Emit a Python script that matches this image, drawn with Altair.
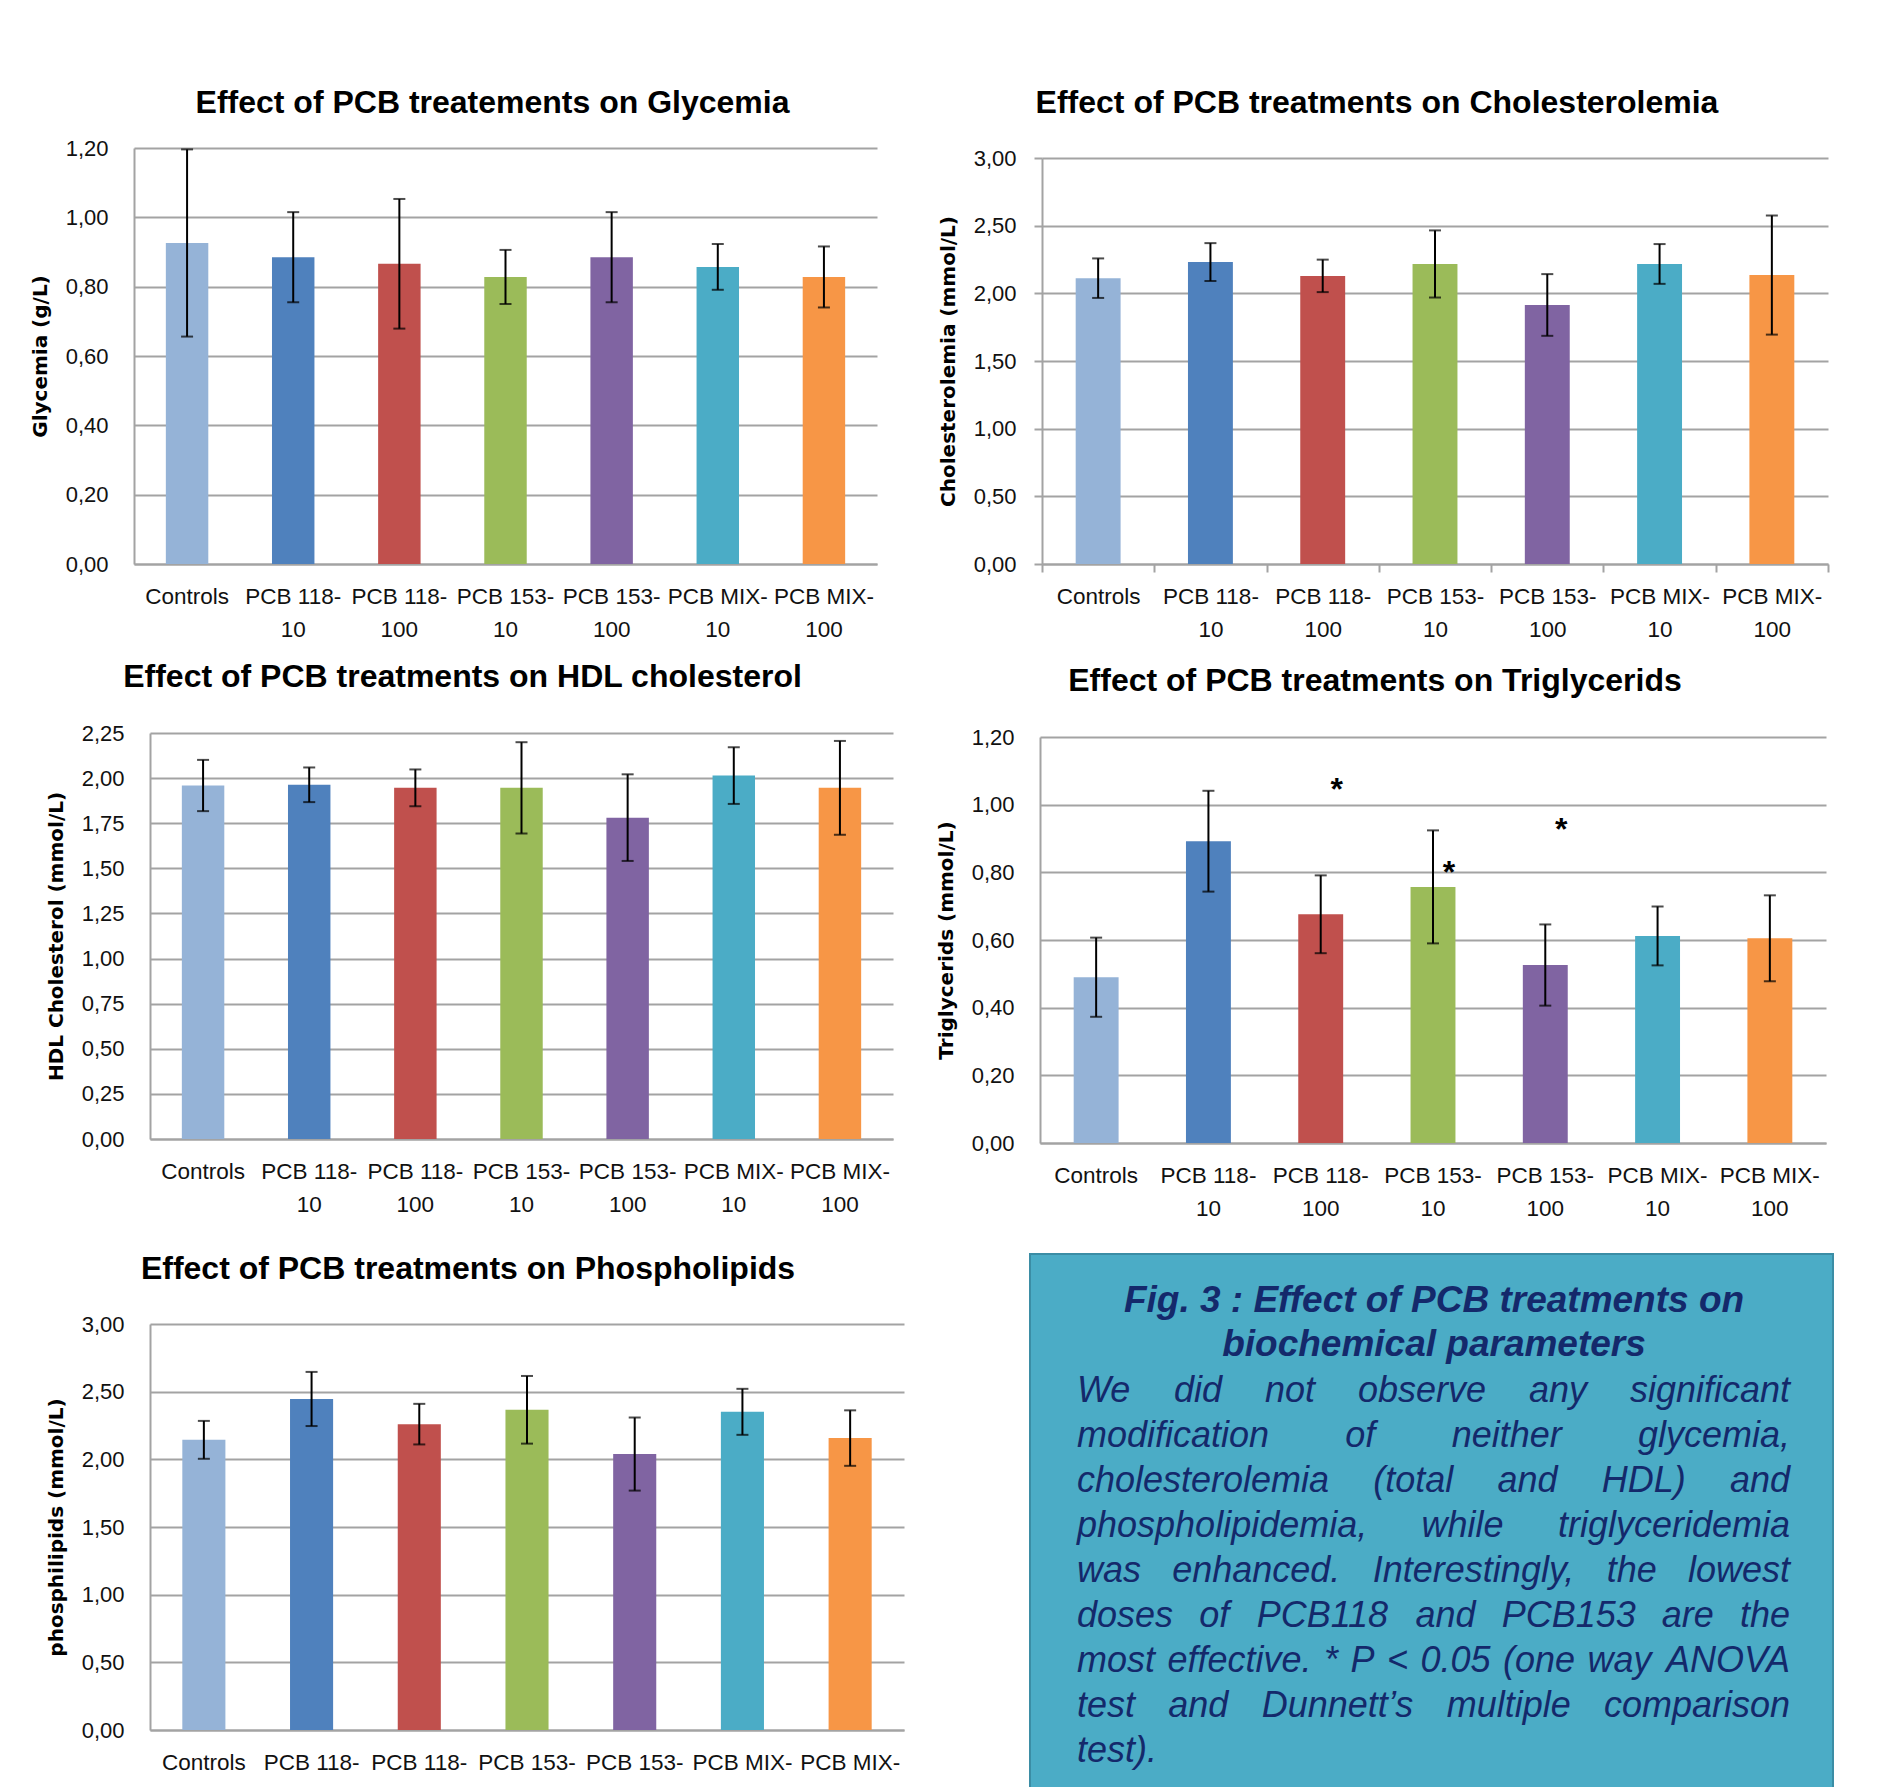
import altair as alt
import pandas as pd

# ---------------- data ----------------
categories = ["Controls", "PCB 118-10", "PCB 118-100", "PCB 153-10",
              "PCB 153-100", "PCB MIX-10", "PCB MIX-100"]
bar_colors = ["#95B3D7", "#4F81BD", "#C0504D", "#9BBB59",
              "#8064A2", "#4BACC6", "#F79646"]

glycemia_mean = [0.926, 0.885, 0.866, 0.828, 0.885, 0.857, 0.828]
glycemia_err = [0.270, 0.130, 0.187, 0.078, 0.130, 0.066, 0.088]
glycemia_ticks = [0.0, 0.2, 0.4, 0.6, 0.8, 1.0, 1.2]

cholesterol_mean = [2.112, 2.231, 2.129, 2.217, 1.914, 2.217, 2.135]
cholesterol_err = [0.146, 0.140, 0.120, 0.248, 0.228, 0.147, 0.440]
cholesterol_ticks = [0.0, 0.5, 1.0, 1.5, 2.0, 2.5, 3.0]

hdl_mean = [1.959, 1.963, 1.946, 1.946, 1.781, 2.014, 1.946]
hdl_err = [0.142, 0.096, 0.102, 0.253, 0.240, 0.157, 0.260]
hdl_ticks = [0.0, 0.25, 0.5, 0.75, 1.0, 1.25, 1.5, 1.75, 2.0, 2.25]

trig_mean = [0.490, 0.892, 0.676, 0.757, 0.526, 0.612, 0.605]
trig_err = [0.117, 0.149, 0.115, 0.167, 0.120, 0.087, 0.127]
trig_ticks = [0.0, 0.2, 0.4, 0.6, 0.8, 1.0, 1.2]
star_categories = ["PCB 118-100", "PCB 153-10", "PCB 153-100"]
star_values = [1.072, 0.829, 0.956]

phospho_mean = [2.144, 2.446, 2.260, 2.366, 2.039, 2.351, 2.157]
phospho_err = [0.140, 0.200, 0.150, 0.250, 0.270, 0.170, 0.205]
phospho_ticks = [0.0, 0.5, 1.0, 1.5, 2.0, 2.5, 3.0]

box_title_lines = ["Fig. 3 : Effect of PCB treatments on", "biochemical parameters"]
box_body_lines = [
    "We did not observe any significant",
    "modification of neither glycemia,",
    "cholesterolemia (total and HDL) and",
    "phospholipidemia, while triglyceridemia",
    "was enhanced. Interestingly, the lowest",
    "doses of PCB118 and PCB153 are the",
    "most effective. * P < 0.05 (one way ANOVA",
    "test and Dunnett\u2019s multiple comparison",
    "test).",
]

# ---------------- styling ----------------
GRID = "#A3A3A3"
LABEL_FONT = "Liberation Sans"
TITLE_FONT = "Liberation Sans"
YTITLE_FONT = "DejaVu Sans"
NAVY = "#14296B"
BOX_FILL = "#4BACC6"
BOX_STROKE = "#3B8DA5"

SPLIT = "split(replace(datum.label, '-', '-|'), '|')"
COMMA = "replace(format(datum.value, '.2f'), '.', ',')"


def panel(title, ytitle, mean, err, ticks_vals, width, height, x_lead=0, y_lead=0,
          title_dx=0, title_offset=28, axis_ticks=False, stars=None):
    df = pd.DataFrame({"cat": categories, "mean": mean, "err": err})
    base = alt.Chart(df).transform_calculate(
        lo="datum.mean - datum.err", hi="datum.mean + datum.err")

    xs_kw = dict(domain=categories, paddingInner=0, paddingOuter=0)
    if x_lead:
        xs_kw["range"] = [-x_lead, width]
    xs = alt.Scale(**xs_kw)
    ys_kw = dict(domain=[0, ticks_vals[-1]], nice=False, zero=True)
    if y_lead:
        ys_kw["range"] = [height, y_lead]
    ys = alt.Scale(**ys_kw)

    xax_kw = dict(title=None, labelAngle=0, labelFont=LABEL_FONT, labelFontSize=22.5,
                  labelColor="#111111", labelLineHeight=33,
                  labelPadding=13 if axis_ticks else 21, labelExpr=SPLIT,
                  labelOverlap=False, labelLimit=300, ticks=axis_ticks, tickSize=8,
                  tickColor=GRID, tickWidth=2, domainColor=GRID, domainWidth=2,
                  grid=False)
    if axis_ticks:
        xax_kw["tickBand"] = "extent"
    x_enc = alt.X("cat:N", sort=categories, scale=xs, axis=alt.Axis(**xax_kw))

    yax_kw = dict(title=ytitle, values=ticks_vals, labelExpr=COMMA, labelFont=LABEL_FONT,
                  labelFontSize=22, labelColor="#111111",
                  labelPadding=18 if axis_ticks else 26, ticks=axis_ticks, tickSize=8,
                  tickColor=GRID, tickWidth=2, domainColor=GRID, domainWidth=2,
                  grid=True, gridColor=GRID, gridWidth=2,
                  titleFont=YTITLE_FONT, titleFontSize=20, titleFontWeight="bold",
                  titleColor="#000000", titleX=-94, titleBaseline="middle")
    if x_lead:
        yax_kw["offset"] = x_lead
    y_enc = alt.Y("mean:Q", scale=ys, axis=alt.Axis(**yax_kw))

    bars = base.mark_bar(width=alt.RelativeBandSize(0.4)).encode(
        x=x_enc, y=y_enc,
        color=alt.Color("cat:N", scale=alt.Scale(domain=categories, range=bar_colors),
                        legend=None))
    rules = base.mark_rule(color="black", strokeWidth=2).encode(
        x=x_enc, y=alt.Y("lo:Q"), y2="hi:Q")
    cap_hi = base.mark_tick(color="black", thickness=2, size=12).encode(
        x=x_enc, y=alt.Y("hi:Q"))
    cap_lo = base.mark_tick(color="black", thickness=2, size=12).encode(
        x=x_enc, y=alt.Y("lo:Q"))
    layers = [bars, rules, cap_hi, cap_lo]
    if stars is not None:
        sdf = pd.DataFrame({"cat": stars[0], "v": stars[1]})
        layers.append(alt.Chart(sdf).mark_text(
            text="*", font=LABEL_FONT, fontSize=32, fontWeight="bold", color="black",
            dx=16, dy=10, baseline="middle").encode(x=x_enc, y=alt.Y("v:Q")))
    return alt.layer(*layers).properties(
        width=width, height=height,
        title=alt.TitleParams(text=title, font=TITLE_FONT, fontSize=32, fontWeight="bold",
                              color="#000000", anchor="middle", frame="group",
                              dx=title_dx, offset=title_offset))


glyc = panel("Effect of PCB treatements on Glycemia", "Glycemia (g/L)",
             glycemia_mean, glycemia_err, glycemia_ticks, 727, 416, x_lead=16,
             title_dx=-21, title_offset=17)
chol = panel("Effect of PCB treatments on Cholesterolemia", "Cholesterolemia (mmol/L)",
             cholesterol_mean, cholesterol_err, cholesterol_ticks, 786, 416, y_lead=10,
             title_dx=-58, title_offset=27, axis_ticks=True)
hdl = panel("Effect of PCB treatments on HDL cholesterol", "HDL Cholesterol (mmol/L)",
            hdl_mean, hdl_err, hdl_ticks, 743, 406, title_dx=-59, title_offset=28)
trig = panel("Effect of PCB treatments on Triglycerids", "Triglycerids (mmol/L)",
             trig_mean, trig_err, trig_ticks, 786, 410, y_lead=4,
             title_dx=-58, title_offset=28, stars=(star_categories, star_values))
phospho = panel("Effect of PCB treatments on Phospholipids", "phosphilipids (mmol/L)",
                phospho_mean, phospho_err, phospho_ticks, 754, 406,
                title_dx=-59, title_offset=27)

# ---------------- text box ----------------
ARIAL = {" ": 278, "!": 278, "(": 333, ")": 333, "*": 389, ",": 278, "-": 333, ".": 278,
         "/": 278, ":": 278, "<": 584, "\u2019": 222, "'": 191}
for ch in "0123456789":
    ARIAL[ch] = 556
ARIAL.update(dict(zip("ABCDEFGHIJKLMNOPQRSTUVWXYZ",
                      [667, 667, 722, 722, 667, 611, 778, 722, 278, 500, 667, 556, 833,
                       722, 778, 667, 778, 722, 667, 611, 722, 667, 944, 667, 667, 611])))
ARIAL.update(dict(zip("abcdefghijklmnopqrstuvwxyz",
                      [556, 556, 500, 556, 556, 278, 556, 556, 222, 222, 500, 222, 833,
                       556, 556, 556, 556, 333, 500, 278, 556, 500, 722, 500, 500, 500])))


def text_width(s, size):
    return sum(ARIAL.get(c, 556) for c in s) * size / 1000.0


BOX_W = 803
BOX_H = 470
BOX_TOP = -70
BODY_SIZE = 36
TXT_L, TXT_R = 47, 760
TITLE_Y0, TITLE_DY = -23, 44
BODY_Y0, BODY_DY = 67, 45

rows = []
for i, line in enumerate(box_body_lines):
    yv = BODY_Y0 + i * BODY_DY
    words = line.split(" ")
    if i == len(box_body_lines) - 1 or len(words) == 1:
        rows.append(dict(x=TXT_L, y=yv, text=line, align="left"))
        continue
    widths = [text_width(w, BODY_SIZE) for w in words]
    gap = (TXT_R - TXT_L - sum(widths)) / (len(words) - 1)
    xpos = TXT_L
    for j, (w, wd) in enumerate(zip(words, widths)):
        if j == 0:
            rows.append(dict(x=TXT_L, y=yv, text=w, align="left"))
        elif j == len(words) - 1:
            rows.append(dict(x=TXT_R, y=yv, text=w, align="right"))
        else:
            rows.append(dict(x=xpos + wd / 2, y=yv, text=w, align="center"))
        xpos += wd + gap
body_df = pd.DataFrame(rows)
title_df = pd.DataFrame({"x": [404, 404],
                         "y": [TITLE_Y0, TITLE_Y0 + TITLE_DY],
                         "text": box_title_lines})

bx = alt.Scale(domain=[0, BOX_W], range=[0, BOX_W], nice=False, zero=False)
by = alt.Scale(domain=[BOX_TOP, BOX_H], range=[BOX_TOP, BOX_H], nice=False, zero=False)

box_rect = alt.Chart(pd.DataFrame({"a": [0]})).mark_rect(
    fill=BOX_FILL, stroke=BOX_STROKE, strokeWidth=2).encode(
    x=alt.value(0), x2=alt.value(BOX_W), y=alt.value(BOX_TOP), y2=alt.value(BOX_H + 20))
box_title = alt.Chart(title_df).mark_text(
    font=LABEL_FONT, fontSize=37, fontWeight="bold", fontStyle="italic", color=NAVY,
    align="center", baseline="middle").encode(
    x=alt.X("x:Q", scale=bx, axis=None), y=alt.Y("y:Q", scale=by, axis=None), text="text:N")
box_layers = [box_rect, box_title]
for a in ["left", "center", "right"]:
    sub = body_df[body_df["align"] == a]
    box_layers.append(alt.Chart(sub).mark_text(
        font=LABEL_FONT, fontSize=BODY_SIZE, fontStyle="italic", color=NAVY,
        align=a, baseline="middle").encode(
        x=alt.X("x:Q", scale=bx, axis=None), y=alt.Y("y:Q", scale=by, axis=None),
        text="text:N"))
box = alt.layer(*box_layers).properties(width=BOX_W, height=BOX_H)

# ---------------- layout ----------------
row1 = alt.hconcat(glyc, chol, spacing=44)
row2 = alt.hconcat(hdl, trig, spacing=43)
row3 = alt.hconcat(phospho, box, spacing=125)

chart = alt.vconcat(row1, alt.vconcat(row2, row3, spacing=33), spacing=20).properties(
    padding={"left": 22, "top": 79, "right": 5, "bottom": 5},
    background="white",
).configure_view(strokeWidth=0)

chart.save("out.html", embed_options={"renderer": "svg", "actions": False})
